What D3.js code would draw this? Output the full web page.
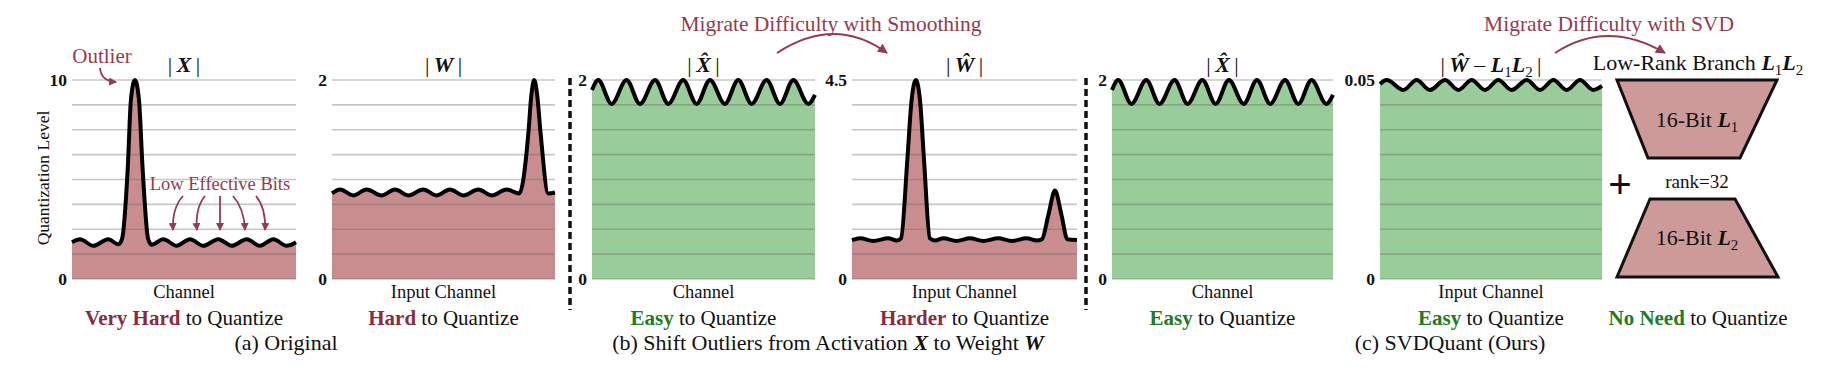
<!DOCTYPE html>
<html>
<head>
<meta charset="utf-8">
<script src="https://cdn.jsdelivr.net/npm/d3@7"></script>
<style>
body { margin: 0; background: #fff; }
text { font-family: "Liberation Serif", "Times New Roman", serif; fill: #111; }
</style>
</head>
<body>
<script>
var chanX = [0, 3.6, 9.5, 16.2, 20.7, 22.3, 24.9, 26.3, 28.1, 29.9, 31.5, 34.0, 35.6, 40.8, 46.7, 52.7, 58.6, 65.3, 71.3, 78, 83.9, 89.9, 95.8, 100];
var levelX = [1.85, 2.0, 1.67, 2.0, 1.74, 2.0, 5.6, 9.0, 10, 9.0, 5.6, 2.0, 1.72, 2.0, 1.67, 2.0, 1.67, 2.0, 1.67, 2.0, 1.67, 2.0, 1.67, 1.85];

var chanW = [0, 3.6, 9.6, 15.5, 22.3, 28.3, 34.2, 40.9, 46.9, 52.9, 58.9, 65.6, 71.6, 78.3, 84.0, 88.0, 89.4, 90.7, 92.0, 93.6, 97.0, 100];
var levelW = [0.86, 0.9, 0.84, 0.9, 0.84, 0.9, 0.84, 0.9, 0.84, 0.9, 0.84, 0.9, 0.84, 0.9, 0.86, 1.45, 1.85, 2.0, 1.85, 1.45, 0.86, 0.87];

var chanXs = [0, 2.8, 8.8, 15.5, 21.5, 28.3, 34.2, 40.9, 46.9, 52.9, 59.6, 65.6, 71.6, 78.3, 84.3, 90.3, 97, 100];
var levelXs = [1.9, 2.0, 1.76, 2.0, 1.76, 2.0, 1.76, 2.0, 1.76, 2.0, 1.76, 2.0, 1.76, 2.0, 1.76, 2.0, 1.76, 1.85];

var chanWs = [0, 3.6, 9.5, 16.1, 19.9, 21.8, 24.6, 26.4, 28.4, 30.3, 32.0, 34.6, 36.9, 40.6, 46.5, 52.4, 58.4, 65.0, 71.0, 77.6, 82.1, 84.4, 87.3, 90.2, 93.1, 95.7, 100];
var levelWs = [0.88, 0.92, 0.86, 0.92, 0.87, 0.92, 2.7, 4.0, 4.5, 4.0, 2.7, 0.92, 0.87, 0.92, 0.86, 0.92, 0.86, 0.92, 0.86, 0.92, 0.87, 0.9, 1.45, 2.0, 1.45, 0.9, 0.88];

var chanR = [0, 3, 10.5, 16.5, 22.5, 29.3, 35.3, 41.3, 47.3, 53.3, 59.3, 66.1, 72.1, 78.1, 84.1, 90.1, 96.1, 100];
var levelR = [0.049, 0.05, 0.0475, 0.05, 0.0475, 0.05, 0.0475, 0.05, 0.0475, 0.05, 0.0475, 0.05, 0.0475, 0.05, 0.0475, 0.05, 0.0475, 0.0485];

var yMaxes = [10, 2, 2, 4.5, 2, 0.05];
var yTickLabels = ["10", "2", "2", "4.5", "2", "0.05"];
var xLabels = ["Channel", "Input Channel", "Channel", "Input Channel", "Channel", "Input Channel"];
var hardWords = ["Very Hard", "Hard", "Easy", "Harder", "Easy", "Easy"];

var red = "#c98d8f", green = "#98cc98", redText = "#8b2b3e", greenText = "#237a23";
var svgWidth = 1832, svgHeight = 376;
var yTop = 80, yBottom = 279;

var svg = d3.select("body").append("svg")
    .attr("width", svgWidth)
    .attr("height", svgHeight);

var defs = svg.append("defs");
defs.append("marker").attr("id", "arr")
    .attr("markerUnits", "userSpaceOnUse")
    .attr("markerWidth", 10).attr("markerHeight", 10)
    .attr("refX", 9).attr("refY", 5).attr("orient", "auto")
    .append("path").attr("d", "M0,0 L10,5 L0,10 z").attr("fill", "#973a4e");
defs.append("marker").attr("id", "arrS")
    .attr("markerUnits", "userSpaceOnUse")
    .attr("markerWidth", 8).attr("markerHeight", 8)
    .attr("refX", 7).attr("refY", 4).attr("orient", "auto")
    .append("path").attr("d", "M0,0 L8,4 L0,8 z").attr("fill", "#973a4e");

// write a run of styled pieces into one text element
function rich(x, y, size, parts, anchor) {
    var t = svg.append("text")
        .attr("x", x).attr("y", y)
        .attr("font-size", size)
        .attr("text-anchor", anchor || "middle");
    var shift = 0;
    parts.forEach(function(p) {
        var s = t.append("tspan").text(p.t);
        var dy = (p.sub ? 5 : 0) - shift;
        if (dy) s.attr("dy", dy);
        shift = p.sub ? 5 : 0;
        if (p.sub) s.attr("font-size", size * 0.68);
        if (p.b) s.attr("font-weight", "bold");
        if (p.i) s.attr("font-style", "italic");
        if (p.c) s.style("fill", p.c);
    });
    return t;
}

var panels = [
    {x0: 72, x1: 296, chan: chanX, level: levelX, fill: red,
        title: [{t: "|\u2009"}, {t: "X", b: 1, i: 1}, {t: "\u2009|"}]},
    {x0: 332, x1: 555, chan: chanW, level: levelW, fill: red,
        title: [{t: "|\u2009"}, {t: "W", b: 1, i: 1}, {t: "\u2009|"}]},
    {x0: 592, x1: 815, chan: chanXs, level: levelXs, fill: green,
        title: [{t: "|\u2009"}, {t: "X\u0302", b: 1, i: 1}, {t: "\u2009|"}]},
    {x0: 852, x1: 1077, chan: chanWs, level: levelWs, fill: red,
        title: [{t: "|\u2009"}, {t: "\u0174", b: 1, i: 1}, {t: "\u2009|"}]},
    {x0: 1112, x1: 1333, chan: chanXs, level: levelXs, fill: green,
        title: [{t: "|\u2009"}, {t: "X\u0302", b: 1, i: 1}, {t: "\u2009|"}]},
    {x0: 1380, x1: 1602, chan: chanR, level: levelR, fill: green,
        title: [{t: "|\u2009"}, {t: "\u0174", b: 1, i: 1}, {t: " \u2013 "}, {t: "L", b: 1, i: 1}, {t: "1", sub: 1},
            {t: "L", b: 1, i: 1}, {t: "2", sub: 1}, {t: "\u2009|"}]}
];

panels.forEach(function(p, i) {
    var x = d3.scaleLinear().domain([0, 100]).range([p.x0, p.x1]);
    var y = d3.scaleLinear().domain([0, yMaxes[i]]).range([yBottom, yTop]);
    var pts = p.chan.map(function(c, k) { return [c, p.level[k]]; });
    var g = svg.append("g");

    g.append("path").datum(pts)
        .attr("fill", p.fill)
        .attr("d", d3.area()
            .x(function(d) { return x(d[0]); })
            .y0(y(0))
            .y1(function(d) { return y(d[1]); })
            .curve(d3.curveMonotoneX));

    g.selectAll("line.grid")
        .data(d3.range(9).map(function(k) { return yMaxes[i] * k / 8; }))
        .enter().append("line")
        .attr("x1", p.x0).attr("x2", p.x1)
        .attr("y1", function(d) { return y(d); })
        .attr("y2", function(d) { return y(d); })
        .attr("stroke", "rgba(105,105,105,0.38)")
        .attr("stroke-width", 1.6);

    g.append("path").datum(pts)
        .attr("fill", "none")
        .attr("stroke", "#000")
        .attr("stroke-width", 4)
        .attr("stroke-linejoin", "round")
        .attr("d", d3.line()
            .x(function(d) { return x(d[0]); })
            .y(function(d) { return y(d[1]); })
            .curve(d3.curveMonotoneX));

    var ax = g.append("g")
        .attr("transform", "translate(" + p.x0 + ",0)")
        .call(d3.axisLeft(y)
            .tickValues([0, yMaxes[i]])
            .tickSize(0)
            .tickPadding(5)
            .tickFormat(function(d) { return d === 0 ? "0" : yTickLabels[i]; }));
    ax.select(".domain").remove();
    ax.selectAll("text")
        .attr("font-family", "Liberation Serif")
        .attr("font-size", 17.5)
        .attr("font-weight", "bold")
        .style("fill", "#111");

    var cx = (p.x0 + p.x1) / 2;
    rich(cx, 72, 22, p.title);
    rich(cx, 298, 18.5, [{t: xLabels[i]}]);
    var good = p.fill === green;
    rich(cx, 325, 21, [{t: hardWords[i], b: 1, c: good ? greenText : redText}, {t: " to Quantize"}]);
});

// y axis title
svg.append("text")
    .attr("transform", "translate(49,178) rotate(-90)")
    .attr("text-anchor", "middle")
    .attr("font-size", 17.5)
    .text("Quantization Level");

// dashed separators
[570, 1086].forEach(function(xp) {
    svg.append("line")
        .attr("x1", xp).attr("x2", xp).attr("y1", 78).attr("y2", 310)
        .attr("stroke", "#111").attr("stroke-width", 3.5)
        .attr("stroke-dasharray", "7,4");
});

// captions
rich(286, 350, 22, [{t: "(a) Original"}]);
rich(828, 350, 22, [{t: "(b) Shift Outliers from Activation "}, {t: "X", b: 1, i: 1}, {t: " to Weight "}, {t: "W", b: 1, i: 1}]);
rich(1450, 350, 22, [{t: "(c) SVDQuant (Ours)"}]);

// annotations
var annoRed = "#973a4e";
rich(102, 63, 21, [{t: "Outlier", c: annoRed}]);
svg.append("path").attr("d", "M100,68 Q101,81 116,82")
    .attr("fill", "none").attr("stroke", annoRed).attr("stroke-width", 1.8)
    .attr("marker-end", "url(#arrS)");
rich(220, 190, 18.5, [{t: "Low Effective Bits", c: annoRed}]);
["M183,196 Q172,208 173,230", "M205,196 Q195,208 197,230", "M220,196 L220,230",
 "M233,196 Q244,208 245,230", "M256,196 Q266,208 265,230"].forEach(function(d) {
    svg.append("path").attr("d", d)
        .attr("fill", "none").attr("stroke", annoRed).attr("stroke-width", 1.8)
        .attr("marker-end", "url(#arrS)");
});

rich(831, 31, 21.5, [{t: "Migrate Difficulty with Smoothing", c: annoRed}]);
svg.append("path").attr("d", "M777,53 Q835,15 887,53")
    .attr("fill", "none").attr("stroke", annoRed).attr("stroke-width", 2)
    .attr("marker-end", "url(#arr)");
rich(1609, 31, 21.5, [{t: "Migrate Difficulty with SVD", c: annoRed}]);
svg.append("path").attr("d", "M1555,53 Q1607,19 1665,53")
    .attr("fill", "none").attr("stroke", annoRed).attr("stroke-width", 2)
    .attr("marker-end", "url(#arr)");

// low-rank branch
rich(1698, 70, 22, [{t: "Low-Rank Branch "}, {t: "L", b: 1, i: 1}, {t: "1", sub: 1}, {t: "L", b: 1, i: 1}, {t: "2", sub: 1}]);
svg.append("polygon").attr("points", "1617,80 1777,80 1740,158 1648,158")
    .attr("fill", "#cc9b99").attr("stroke", "#111").attr("stroke-width", 3).attr("stroke-linejoin", "miter");
svg.append("polygon").attr("points", "1650,199 1735,199 1778,277 1617,277")
    .attr("fill", "#cc9b99").attr("stroke", "#111").attr("stroke-width", 3).attr("stroke-linejoin", "miter");
rich(1697, 127, 22, [{t: "16-Bit "}, {t: "L", b: 1, i: 1}, {t: "1", sub: 1}]);
rich(1697, 245, 22, [{t: "16-Bit "}, {t: "L", b: 1, i: 1}, {t: "2", sub: 1}]);
rich(1697, 188, 19, [{t: "rank=32"}]);
rich(1620, 198, 42, [{t: "+", b: 1}]);
rich(1698, 325, 21, [{t: "No Need", b: 1, c: greenText}, {t: " to Quantize"}]);
</script>
</body>
</html>
